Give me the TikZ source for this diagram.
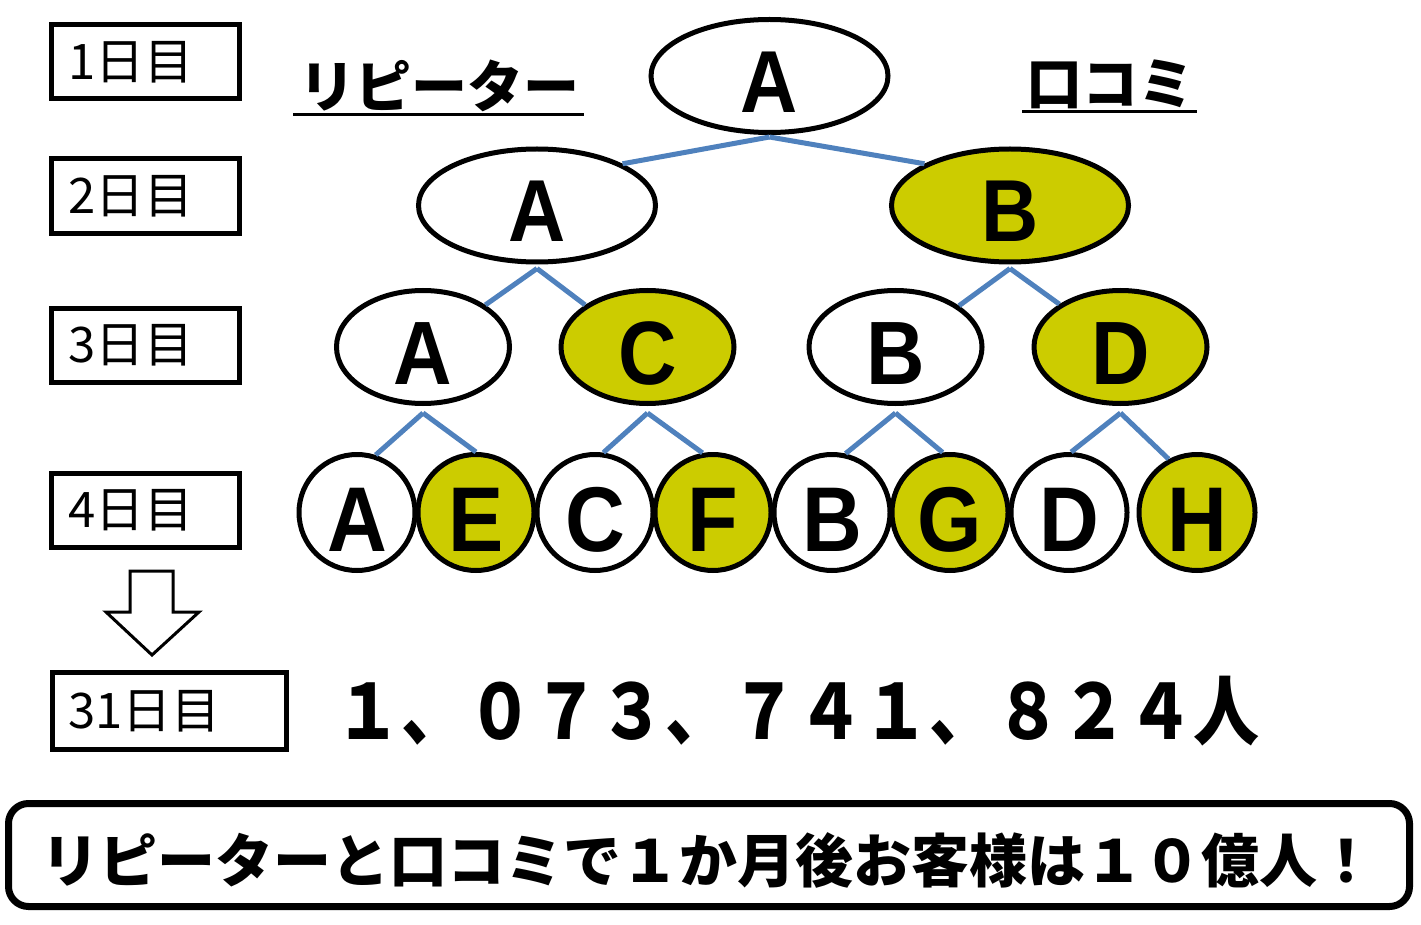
\documentclass[tikz,border=0pt]{standalone}
\usepackage{fontspec}
\usetikzlibrary{shapes.geometric}
\newfontfamily\jp{Noto Sans CJK JP}
\newfontfamily\lat{Liberation Sans}
\definecolor{olivey}{HTML}{CCCC00}
\definecolor{linkblue}{HTML}{4F81BD}
\tikzset{
  daybox/.style={draw, line width=5pt, inner sep=0pt},
  daytext/.style={anchor=west, inner sep=0pt, font=\jp\fontsize{49}{49}\selectfont},
  bigell/.style={ellipse, draw, line width=5pt, inner sep=0pt, text height=73pt, text depth=0pt, minimum width=237pt, minimum height=113pt, font=\lat\bfseries\fontsize{88}{88}\selectfont},
  midell/.style={ellipse, draw, line width=5pt, inner sep=0pt, text height=75pt, text depth=0pt, minimum width=173pt, minimum height=113pt, font=\lat\bfseries\fontsize{90}{90}\selectfont},
  circ/.style={circle, draw, line width=5pt, inner sep=0pt, text height=77pt, text depth=0pt, minimum size=116pt, font=\lat\bfseries\fontsize{92}{92}\selectfont},
  wfill/.style={fill=white},
  yfill/.style={fill=olivey},
  link/.style={draw=linkblue, line width=5pt},
  title/.style={inner sep=0pt, font=\jp\bfseries\fontsize{56}{56}\selectfont},
  uline/.style={line width=3pt},
}
\newcommand{\nar}[1]{\scalebox{0.9}[1]{#1}}
\begin{document}
\begin{tikzpicture}[x=1pt,y=-1pt]
\useasboundingbox (0,0) rectangle (1421,925);
% day boxes
\node[daybox, minimum width=188pt, minimum height=74pt] (d1) at (145.5,61.5) {};
\node[daytext] (t1) at (68,62) {1日目};
\node[daybox, minimum width=188pt, minimum height=75pt] (d2) at (145.5,196) {};
\node[daytext] (t2) at (68,196) {2日目};
\node[daybox, minimum width=188pt, minimum height=74pt] (d3) at (145.5,345) {};
\node[daytext] (t3) at (68,345) {3日目};
\node[daybox, minimum width=188pt, minimum height=74pt] (d4) at (145.5,510) {};
\node[daytext] (t4) at (68,510) {4日目};
\node[daybox, minimum width=234pt, minimum height=77pt] (d31) at (169.5,711) {};
\node[daytext] (t31) at (68,711) {31日目};
% hollow arrow
\draw[line width=3pt, line join=miter, fill=white] (130,571) -- (173,571) -- (173,612) -- (199,612) -- (152,655) -- (106,612) -- (130,612) -- cycle;
% titles
\node[title] (rep) at (439,86) {リピーター};
\coordinate (ua) at (293,115);
\coordinate (ub) at (584,115);
\draw[uline] (ua) -- (ub);
\node[title] (kuchi) at (1110,84) {口コミ};
\coordinate (uc) at (1022,112);
\coordinate (ud) at (1197,112);
\draw[uline] (uc) -- (ud);
% level 1
\node[bigell, wfill] (L1A) at (769.5,76) {\nar{A}};
% level 2
\node[bigell, wfill] (L2A) at (537,205.5) {\nar{A}};
\node[bigell, yfill] (L2B) at (1010,205.5) {\nar{B}};
% level 3
\node[midell, wfill] (L3A) at (423,347) {\nar{A}};
\node[midell, yfill] (L3C) at (647.5,347) {\nar{C}};
\node[midell, wfill] (L3B) at (895.5,347) {\nar{B}};
\node[midell, yfill] (L3D) at (1120.5,347) {\nar{D}};
% level 4
\node[circ, wfill] (L4A) at (357,512.5) {\nar{A}};
\node[circ, yfill] (L4E) at (476,512.5) {\nar{E}};
\node[circ, wfill] (L4C) at (595,512.5) {\nar{C}};
\node[circ, yfill] (L4F) at (713,512.5) {\nar{F}};
\node[circ, wfill] (L4B) at (832,512.5) {\nar{B}};
\node[circ, yfill] (L4G) at (950,512.5) {\nar{G}};
\node[circ, wfill] (L4D) at (1069,512.5) {\nar{D}};
\node[circ, yfill] (L4H) at (1197,512.5) {\nar{H}};
% links
\draw[link] ([yshift=-2pt]L1A.south) -- (L2A.26);
\draw[link] ([yshift=-2pt]L1A.south) -- (L2B.154);
\draw[link] ([yshift=-4pt]L2A.south) -- (L3A.34);
\draw[link] ([yshift=-4pt]L2A.south) -- (L3C.146);
\draw[link] ([yshift=-4pt]L2B.south) -- (L3B.33);
\draw[link] ([yshift=-4pt]L2B.south) -- (L3D.145);
\draw[link] ([yshift=-7pt]L3A.south) -- (L4A.72);
\draw[link] ([yshift=-7pt]L3A.south) -- (L4E.90);
\draw[link] ([yshift=-7pt]L3C.south) -- (L4C.82);
\draw[link] ([yshift=-7pt]L3C.south) -- (L4F.100);
\draw[link] ([yshift=-7pt]L3B.south) -- (L4B.77);
\draw[link] ([yshift=-7pt]L3B.south) -- (L4G.97);
\draw[link] ([yshift=-7pt]L3D.south) -- (L4D.88);
\draw[link] ([yshift=-7pt]L3D.south) -- (L4H.118);
% number
\node[inner sep=0pt, font=\jp\bfseries\fontsize{66}{66}\selectfont] (num) at (797,711) {\scalebox{1}[1.15]{１、０７３、７４１、８２４人}};
% bottom box
\node[draw, line width=7pt, rounded corners=20pt, minimum width=1401pt, minimum height=103pt, inner sep=0pt] (bot) at (709,855) {};
\node[inner sep=0pt, font=\jp\bfseries\fontsize{58}{58}\selectfont] (msg) at (708,860) {リピーターと口コミで１か月後お客様は１０億人！};
\end{tikzpicture}
\end{document}
